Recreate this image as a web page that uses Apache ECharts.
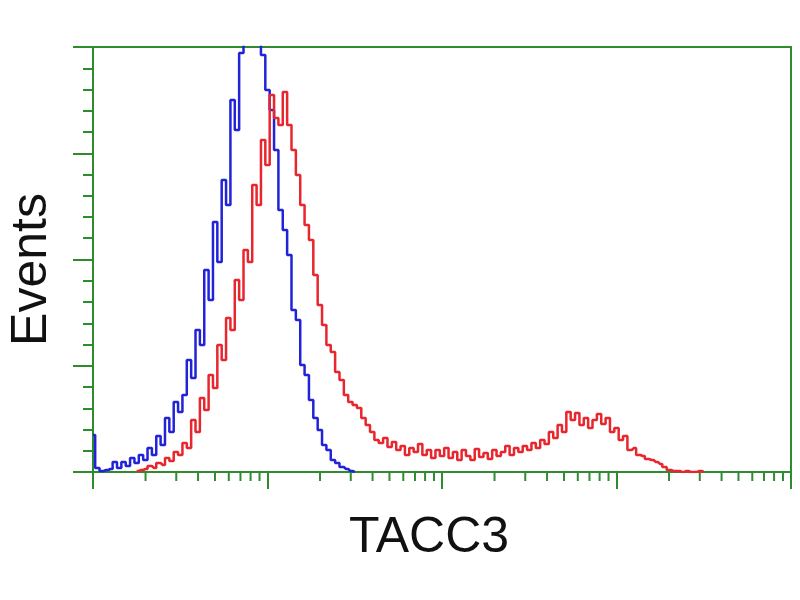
<!DOCTYPE html>
<html>
<head>
<meta charset="utf-8">
<script src="https://cdn.jsdelivr.net/npm/echarts@6/dist/echarts.min.js"></script>
<style>html,body{margin:0;padding:0;background:#fff;}#c{width:800px;height:600px;}</style>
</head>
<body>
<div id="c"></div>
<script>
// Histogram channels: each channel spans BIN decades of the log x axis
const BIN = 0.025;
const blueStart = 0;
const blueCounts = [37,4,1,2,3,10,4,10,6,14,9,17,12,24,17,36,27,54,40,70,60,77,112,94,142,127,202,172,250,210,292,267,372,342,419,432,442,437,430,417,382,362,322,262,242,217,162,152,107,97,72,54,42,27,22,12,9,5,3,1,0];
const redStart = 10;
const redCounts = [1,2,3,6,4,9,7,14,11,20,17,29,24,52,40,74,62,97,84,127,112,154,142,192,172,222,210,287,267,332,307,377,354,347,380,347,322,297,267,247,232,197,167,147,127,120,100,92,77,70,67,64,54,47,40,32,29,34,25,30,22,26,17,24,20,28,17,22,14,22,16,24,14,20,12,22,16,12,23,15,19,13,22,16,20,26,17,24,20,26,22,29,24,32,28,40,34,47,40,60,52,59,47,54,44,52,58,48,54,40,44,32,36,22,24,17,16,13,12,10,8,5,2,1,1,0,1,0,0,1,0];
const yMax = 425;
const xMinorTicks = [2,3,4,5,6,7,8,9,20,30,40,50,60,70,80,90,200,300,400,500,600,700,800,900,2000,3000,4000,5000,6000,7000,8000,9000];
const xName = 'TACC3';
const yName = 'Events';

const GREEN = '#2e8b2e';
function toPoints(start, counts) {
  return counts.map((v, i) => [Math.pow(10, (start + i) * BIN), v]);
}

const chart = echarts.init(document.getElementById('c'), null, {renderer: 'canvas'});
chart.setOption({
  backgroundColor: '#ffffff',
  animation: false,
  grid: {left: 93, top: 47, right: 9, bottom: 128, show: true, borderColor: GREEN, borderWidth: 2,
         backgroundColor: '#fff', containLabel: false, outerBoundsMode: 'none'},
  xAxis: {
    type: 'log', logBase: 10, min: 1, max: 10000,
    name: xName, nameLocation: 'middle', nameGap: 41,
    nameTextStyle: {fontFamily: 'Liberation Sans', fontSize: 50, color: '#111', padding: [0, 26, 0, 0]},
    axisLine: {show: true, lineStyle: {color: GREEN, width: 2}},
    axisTick: {show: true, length: 17, lineStyle: {color: GREEN, width: 2}},
    axisLabel: {show: false},
    splitLine: {show: false}, minorSplitLine: {show: false}
  },
  yAxis: {
    type: 'value', min: 0, max: yMax, interval: yMax / 4,
    name: yName, nameLocation: 'middle', nameGap: 36, nameRotate: 90,
    nameTextStyle: {fontFamily: 'Liberation Sans', fontSize: 50, color: '#111', padding: [0, 20, 0, 0]},
    axisLine: {show: true, lineStyle: {color: GREEN, width: 2}},
    axisTick: {show: true, length: 20, lineStyle: {color: GREEN, width: 2}},
    minorTick: {show: true, splitNumber: 5, length: 10, lineStyle: {color: GREEN, width: 2}},
    axisLabel: {show: false},
    splitLine: {show: false}, minorSplitLine: {show: false}
  },
  series: [
    {
      type: 'custom', silent: true, clip: false,
      data: xMinorTicks.map(v => [v, 0]),
      renderItem: function (params, api) {
        const p = api.coord([api.value(0), 0]);
        return {type: 'line', shape: {x1: p[0], y1: p[1], x2: p[0], y2: p[1] + 9}, style: {stroke: GREEN, lineWidth: 2}};
      }
    },
    {
      type: 'line', name: 'blue', step: 'middle', symbol: 'none', clip: true,
      data: toPoints(blueStart, blueCounts),
      lineStyle: {color: '#2222d8', width: 2.5}, z: 3
    },
    {
      type: 'line', name: 'red', step: 'middle', symbol: 'none', clip: true,
      data: toPoints(redStart, redCounts),
      lineStyle: {color: '#e8262e', width: 2.5}, z: 4
    }
  ]
});
</script>
</body>
</html>
